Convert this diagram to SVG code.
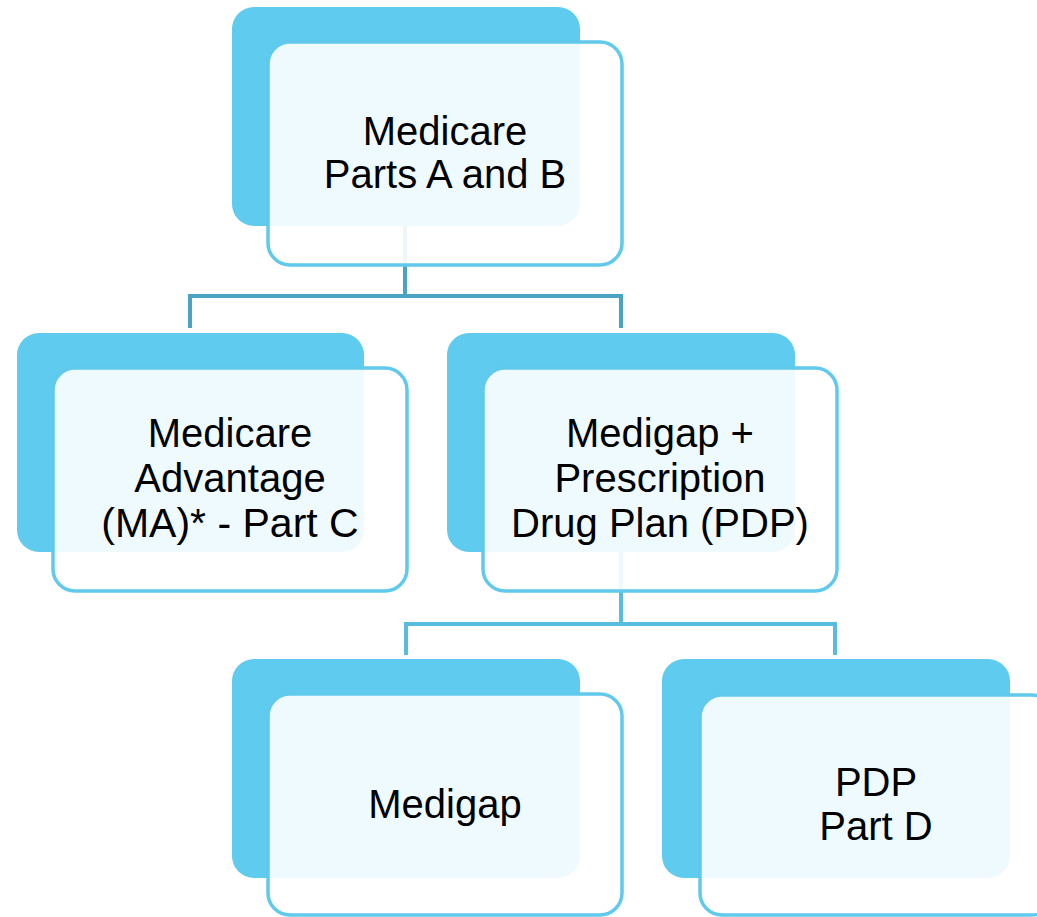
<svg xmlns="http://www.w3.org/2000/svg" width="1037" height="917" viewBox="0 0 1037 917">
<style>
.back{fill:#5FCBEE}
.front{fill:#FFFFFF;fill-opacity:0.9;stroke:#60C9EC;stroke-width:3.5}
.c1{fill:none;stroke:#4BA3C3;stroke-width:4}
.c2{fill:none;stroke:#58BCDF;stroke-width:4}
text{font-family:"Liberation Sans",Arial,sans-serif;font-size:40px;fill:#000;text-anchor:middle}
</style>
<rect width="1037" height="917" fill="#FFFFFF"/>
<g id="n1-back"><rect class="back" x="232" y="7" width="348" height="219" rx="22"/></g>
<g id="n2-back"><rect class="back" x="17" y="333" width="347" height="219" rx="22"/></g>
<g id="n3-back"><rect class="back" x="447" y="333" width="348" height="219" rx="22"/></g>
<g id="n4-back"><rect class="back" x="232" y="659" width="348" height="219" rx="22"/></g>
<g id="n5-back"><rect class="back" x="662" y="659" width="348" height="219" rx="22"/></g>
<g id="connectors">
<path class="c1" d="M405 226 V296 M190 328 V296 H621 V328"/>
<path class="c2" d="M621 552 V624 M406 655 V624 H835 V655"/>
</g>
<g id="n1">
<rect class="front" x="268" y="42" width="354" height="223" rx="22"/>
<text x="445" y="145">Medicare</text>
<text x="445" y="188">Parts A and B</text>
</g>
<g id="n2">
<rect class="front" x="53" y="368" width="354" height="223" rx="22"/>
<text x="230" y="447">Medicare</text>
<text x="230" y="492">Advantage</text>
<text x="230" y="537" style="font-size:41px">(MA)* - Part C</text>
</g>
<g id="n3">
<rect class="front" x="483" y="368" width="354" height="223" rx="22"/>
<text x="660" y="447">Medigap +</text>
<text x="660" y="492">Prescription</text>
<text x="660" y="537">Drug Plan (PDP)</text>
</g>
<g id="n4">
<rect class="front" x="268" y="694" width="354" height="221" rx="22"/>
<text x="445" y="818">Medigap</text>
</g>
<g id="n5">
<rect class="front" x="700" y="695" width="354" height="220" rx="22"/>
<text x="876" y="796">PDP</text>
<text x="876" y="840">Part D</text>
</g>
</svg>
